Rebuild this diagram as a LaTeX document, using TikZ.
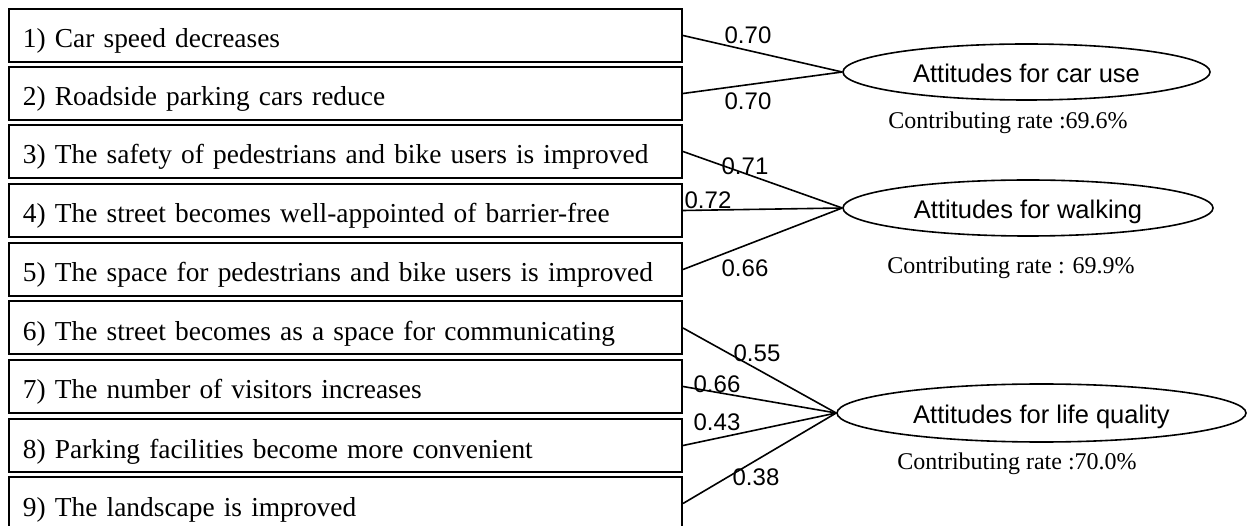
\documentclass[tikz,border=0pt]{standalone}
\usepackage{fontspec}
\setmainfont{Liberation Serif}
\newfontfamily\arialf{Liberation Sans}
\usetikzlibrary{shapes.geometric}
\begin{document}
\begin{tikzpicture}[x=1pt,y=-1pt,
 itembox/.style={draw, line width=2pt, minimum height=53pt, text width=645pt, inner xsep=14pt, inner ysep=0pt, text height=32pt, text depth=7pt, align=left, font=\fontsize{27.4}{30}\selectfont},
 factor/.style={draw, ellipse, line width=1.6pt, inner sep=0pt, text height=22pt, text depth=0pt, font=\arialf\fontsize{25.5}{28}\selectfont},
 wt/.style={font=\arialf\fontsize{24}{26}\selectfont, inner sep=0pt},
 rate/.style={font=\fontsize{24}{26}\selectfont, inner sep=0pt},
 link/.style={line width=1.6pt}]
\clip (0,0) rectangle (1248,526);
\fill[white] (0,0) rectangle (1248,526);
\node[itembox] (b1) at (345.5,35.5) {1) Car speed decreases};
\node[itembox] (b2) at (345.5,93.5) {2) Roadside parking cars reduce};
\node[itembox] (b3) at (345.5,151.5) {3) The safety of pedestrians and bike users is improved};
\node[itembox] (b4) at (345.5,210.5) {4) The street becomes well-appointed of barrier-free};
\node[itembox] (b5) at (345.5,269.5) {5) The space for pedestrians and bike users is improved};
\node[itembox] (b6) at (345.5,328) {6) The street becomes as a space for communicating};
\node[itembox] (b7) at (345.5,386.5) {7) The number of visitors increases};
\node[itembox] (b8) at (345.5,445.5) {8) Parking facilities become more convenient};
\node[itembox] (b9) at (345.5,503.5) {9) The landscape is improved};
\node[factor, minimum width=367pt, minimum height=56pt] (car) at (1026.5,72) {Attitudes for car use};
\node[factor, minimum width=370pt, minimum height=56pt] (walk) at (1028,208) {Attitudes for walking};
\node[factor, minimum width=409pt, minimum height=58pt] (life) at (1041.5,413) {Attitudes for life quality};
\draw[link] (b1.east) -- (car.west);
\draw[link] (b2.east) -- (car.west);
\draw[link] (b3.east) -- (walk.west);
\draw[link] (b4.east) -- (walk.west);
\draw[link] (b5.east) -- (walk.west);
\draw[link] (b6.east) -- (life.west);
\draw[link] (b7.east) -- (life.west);
\draw[link] (b8.east) -- (life.west);
\draw[link] (b9.east) -- (life.west);
\node[wt] (w1) at (748,35) {0.70};
\node[wt] (w2) at (748,101) {0.70};
\node[wt] (w3) at (745,166) {0.71};
\node[wt] (w4) at (708,200) {0.72};
\node[wt] (w5) at (745,268) {0.66};
\node[wt] (w6) at (757,353) {0.55};
\node[wt] (w7) at (717,384) {0.66};
\node[wt] (w8) at (717,422) {0.43};
\node[wt] (w9) at (756,477) {0.38};
\node[rate] (r1) at (1008,123) {Contributing rate :69.6\%};
\node[rate] (r2) at (1011,268) {Contributing rate : 69.9\%};
\node[rate] (r3) at (1017,464) {Contributing rate :70.0\%};
\end{tikzpicture}
\end{document}
